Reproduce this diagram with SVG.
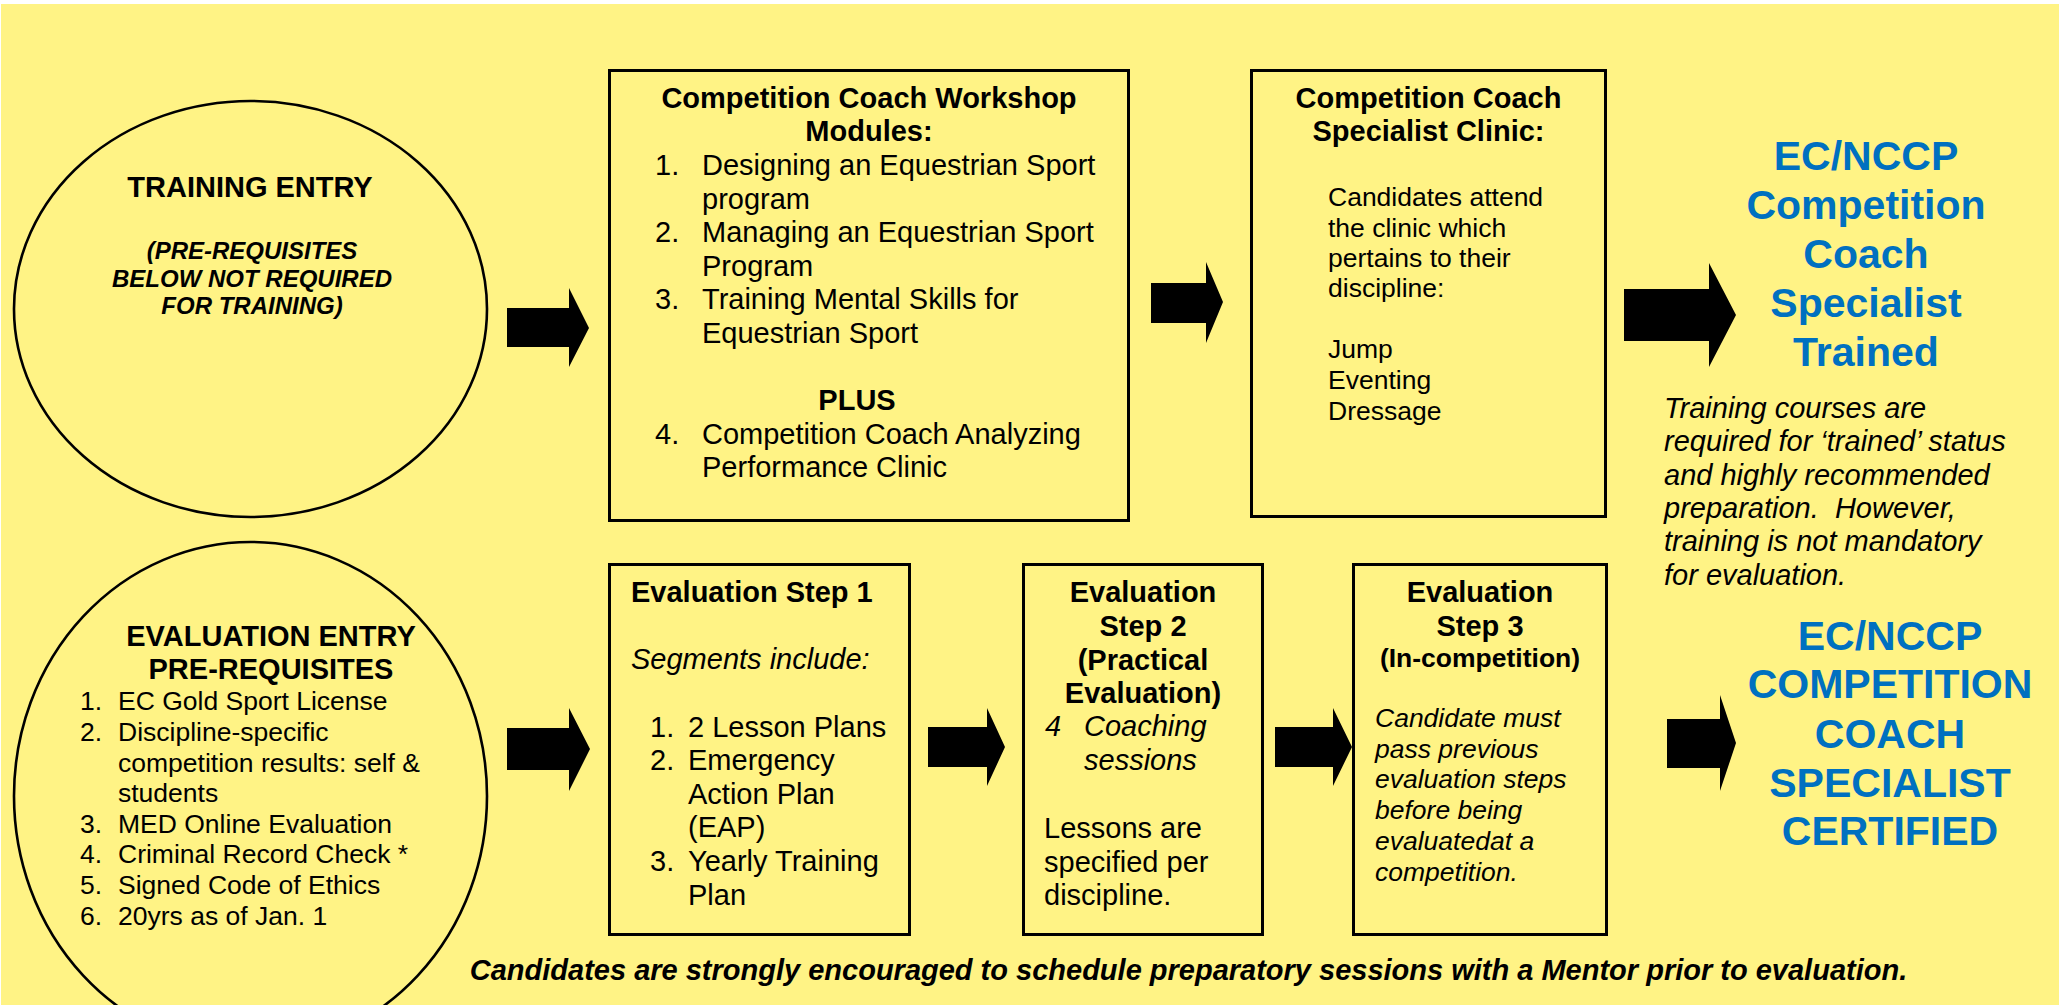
<svg xmlns="http://www.w3.org/2000/svg" width="2059" height="1005" viewBox="0 0 2059 1005">
<style>
text{font-family:"Liberation Sans",Arial,Helvetica,sans-serif;fill:#000}
.b{font-weight:bold;font-size:29px}
.bm{font-weight:bold;font-size:26.5px}
.bi{font-weight:bold;font-style:italic;font-size:24px}
.r{font-size:29px}
.rs{font-size:26.5px}
.i{font-style:italic;font-size:29px}
.is{font-style:italic;font-size:26.5px}
.note{font-weight:bold;font-style:italic;font-size:29px}
.blue{font-weight:bold;font-size:41px;fill:#0070C0}
.c{text-anchor:middle}
.box{fill:none;stroke:#000;stroke-width:3}
.oval{fill:none;stroke:#000;stroke-width:2.6}
.arrow{fill:#000}
</style>
<rect x="1" y="4" width="2058" height="1001" fill="#FFF385"/>

<g id="training-entry">
<ellipse class="oval" cx="250.5" cy="309" rx="236.5" ry="208"/>
<text class="b c" x="250" y="197">TRAINING ENTRY</text>
<text class="bi c" x="252" y="259">(PRE-REQUISITES</text>
<text class="bi c" x="252" y="287">BELOW NOT REQUIRED</text>
<text class="bi c" x="252" y="314">FOR TRAINING)</text>
</g>

<g id="evaluation-entry">
<ellipse class="oval" cx="250.5" cy="796" rx="236.5" ry="254"/>
<text class="b c" x="271" y="646">EVALUATION ENTRY</text>
<text class="b c" x="271" y="679">PRE-REQUISITES</text>
<text class="rs" x="80" y="710">1.</text><text class="rs" x="118" y="710">EC Gold Sport License</text>
<text class="rs" x="80" y="741">2.</text><text class="rs" x="118" y="741">Discipline-specific</text>
<text class="rs" x="118" y="772">competition results: self &amp;</text>
<text class="rs" x="118" y="802">students</text>
<text class="rs" x="80" y="833">3.</text><text class="rs" x="118" y="833">MED Online Evaluation</text>
<text class="rs" x="80" y="863">4.</text><text class="rs" x="118" y="863">Criminal Record Check *</text>
<text class="rs" x="80" y="894">5.</text><text class="rs" x="118" y="894">Signed Code of Ethics</text>
<text class="rs" x="80" y="925">6.</text><text class="rs" x="118" y="925">20yrs as of Jan. 1</text>
</g>

<g id="workshop">
<rect class="box" x="609.5" y="70.5" width="519" height="450"/>
<text class="b c" x="869" y="108">Competition Coach Workshop</text>
<text class="b c" x="869" y="141">Modules:</text>
<text class="r" x="655" y="175">1.</text><text class="r" x="702" y="175">Designing an Equestrian Sport</text>
<text class="r" x="702" y="208.5">program</text>
<text class="r" x="655" y="242">2.</text><text class="r" x="702" y="242">Managing an Equestrian Sport</text>
<text class="r" x="702" y="275.5">Program</text>
<text class="r" x="655" y="309">3.</text><text class="r" x="702" y="309">Training Mental Skills for</text>
<text class="r" x="702" y="342.5">Equestrian Sport</text>
<text class="b c" x="857" y="410">PLUS</text>
<text class="r" x="655" y="443.5">4.</text><text class="r" x="702" y="443.5">Competition Coach Analyzing</text>
<text class="r" x="702" y="477">Performance Clinic</text>
</g>

<g id="specialist-clinic">
<rect class="box" x="1251.5" y="70.5" width="354" height="446"/>
<text class="b c" x="1428.5" y="108">Competition Coach</text>
<text class="b c" x="1428.5" y="141">Specialist Clinic:</text>
<text class="rs" x="1328" y="206">Candidates attend</text>
<text class="rs" x="1328" y="237">the clinic which</text>
<text class="rs" x="1328" y="267">pertains to their</text>
<text class="rs" x="1328" y="297">discipline:</text>
<text class="rs" x="1328" y="358">Jump</text>
<text class="rs" x="1328" y="389">Eventing</text>
<text class="rs" x="1328" y="420">Dressage</text>
</g>

<g id="trained">
<text class="blue c" x="1866" y="170">EC/NCCP</text>
<text class="blue c" x="1866" y="219">Competition</text>
<text class="blue c" x="1866" y="268">Coach</text>
<text class="blue c" x="1866" y="317">Specialist</text>
<text class="blue c" x="1866" y="366">Trained</text>
</g>

<g id="training-note">
<text class="i" x="1664" y="418">Training courses are</text>
<text class="i" x="1664" y="451.3">required for ‘trained’ status</text>
<text class="i" x="1664" y="484.6">and highly recommended</text>
<text class="i" x="1664" y="518" xml:space="preserve">preparation.  However,</text>
<text class="i" x="1664" y="551.3">training is not mandatory</text>
<text class="i" x="1664" y="584.6">for evaluation.</text>
</g>

<g id="eval-step-1">
<rect class="box" x="609.5" y="564.5" width="300" height="370"/>
<text class="b" x="631" y="602">Evaluation Step 1</text>
<text class="i" x="631" y="669">Segments include:</text>
<text class="r" x="650" y="737">1.</text><text class="r" x="688" y="737">2 Lesson Plans</text>
<text class="r" x="650" y="770">2.</text><text class="r" x="688" y="770">Emergency</text>
<text class="r" x="688" y="803.5">Action Plan</text>
<text class="r" x="688" y="837">(EAP)</text>
<text class="r" x="650" y="871">3.</text><text class="r" x="688" y="871">Yearly Training</text>
<text class="r" x="688" y="905">Plan</text>
</g>

<g id="eval-step-2">
<rect class="box" x="1023.5" y="564.5" width="239" height="370"/>
<text class="b c" x="1143" y="602">Evaluation</text>
<text class="b c" x="1143" y="636">Step 2</text>
<text class="b c" x="1143" y="670">(Practical</text>
<text class="b c" x="1143" y="703">Evaluation)</text>
<text class="i" x="1045" y="736">4</text><text class="i" x="1084" y="736">Coaching</text>
<text class="i" x="1084" y="770">sessions</text>
<text class="r" x="1044" y="838">Lessons are</text>
<text class="r" x="1044" y="872">specified per</text>
<text class="r" x="1044" y="905">discipline.</text>
</g>

<g id="eval-step-3">
<rect class="box" x="1353.5" y="564.5" width="253" height="370"/>
<text class="b c" x="1480" y="602">Evaluation</text>
<text class="b c" x="1480" y="636">Step 3</text>
<text class="bm c" x="1480" y="667">(In-competition)</text>
<text class="is" x="1375" y="727">Candidate must</text>
<text class="is" x="1375" y="758">pass previous</text>
<text class="is" x="1375" y="788">evaluation steps</text>
<text class="is" x="1375" y="819">before being</text>
<text class="is" x="1375" y="850">evaluatedat a</text>
<text class="is" x="1375" y="881">competition.</text>
</g>

<g id="certified">
<text class="blue c" x="1890" y="650">EC/NCCP</text>
<text class="blue c" x="1890" y="698">COMPETITION</text>
<text class="blue c" x="1890" y="748">COACH</text>
<text class="blue c" x="1890" y="797">SPECIALIST</text>
<text class="blue c" x="1890" y="845">CERTIFIED</text>
</g>

<g id="mentor-note">
<text class="note c" x="1188.5" y="980">Candidates are strongly encouraged to schedule preparatory sessions with a Mentor prior to evaluation.</text>
</g>

<g id="connectors">
<polygon class="arrow" points="507,308 569,308 569,288 589,328 569,367 569,347 507,347"/>
<polygon class="arrow" points="1151,283 1206,283 1206,262 1223,302 1206,343 1206,323 1151,323"/>
<polygon class="arrow" points="1624,289 1709,289 1709,263 1736,315 1709,367 1709,341 1624,341"/>
<polygon class="arrow" points="507,728 569,728 569,708 590,749 569,791 569,770 507,770"/>
<polygon class="arrow" points="928,727 987,727 987,708 1005,747 987,786 987,767 928,767"/>
<polygon class="arrow" points="1275,727 1333,727 1333,708 1352,747 1333,786 1333,767 1275,767"/>
<polygon class="arrow" points="1667,719 1720,719 1720,695 1736,743 1720,791 1720,768 1667,768"/>
</g>
</svg>
